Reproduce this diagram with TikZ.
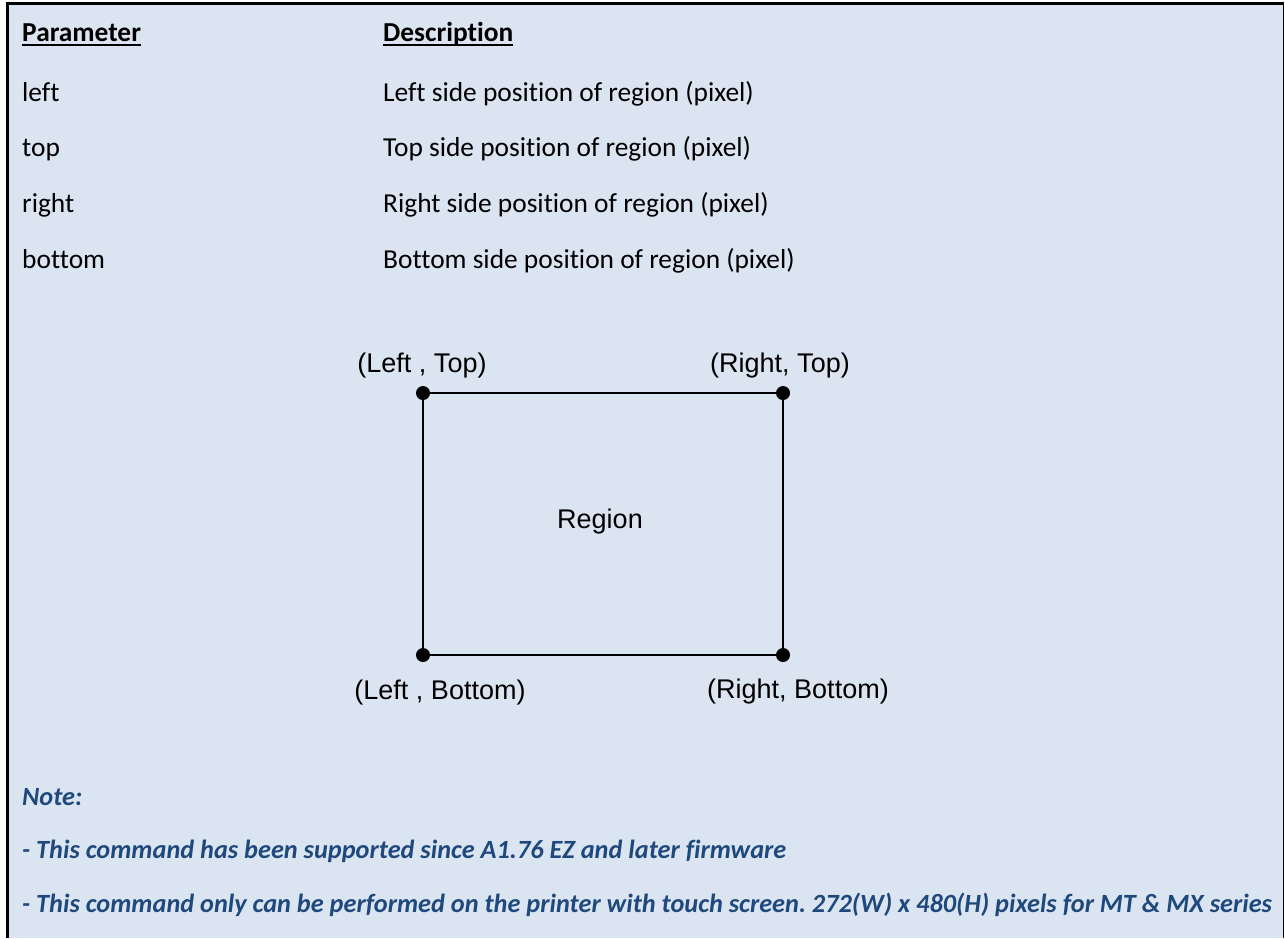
\documentclass[tikz,border=0pt]{standalone}
\usepackage{fontspec}
\setmainfont[Ligatures=NoCommon]{Carlito}
\newfontfamily\arialf{Liberation Sans}
\usetikzlibrary{positioning}
\definecolor{hatter}{HTML}{DBE5F1}
\definecolor{megjszin}{HTML}{1F497D}
\newcommand{\alah}[1]{\setbox0\hbox{#1}\rlap{\rule[-4.5pt]{\wd0}{1.8pt}}\box0}
\frenchspacing
\tikzset{
  sarok/.style={circle,fill,inner sep=0pt,minimum size=14pt},
  cella/.style={anchor=base west,inner sep=0pt,font=\fontsize{27.4}{32}\selectfont},
  fej/.style={cella,font=\fontsize{27.4}{32}\selectfont\bfseries},
  felirat/.style={inner sep=0pt,font=\arialf\fontsize{27}{32}\selectfont},
  megj/.style={cella,text=megjszin,font=\fontsize{26.3}{31}\selectfont\bfseries\itshape},
  keret/.style={line width=2pt},
}

\begin{document}
\begin{tikzpicture}[x=1pt,y=-1pt]
  \useasboundingbox (0,0) rectangle (1285,938);
  \fill[white] (0,0) rectangle (1285,938);
  \fill[hatter] (8,4) rectangle (1283,938);
  \draw[line width=3.5pt] (7.5,938) -- (7.5,3.5) -- (1284,3.5);
  \draw[line width=1.5pt] (1283.5,3.5) -- (1283.5,938);
  % table
  \node[fej] (par) at (22,41) {\alah{Parameter}};
  \node[fej] (desc) at (383,41) {\alah{Description}};
  \foreach \nev/\leir [count=\i] in {left/Left,top/Top,right/Right,bottom/Bottom}{
    \node[cella] (p\i) at (22,{101+55.7*(\i-1)}) {\nev};
    \node[cella] (d\i) at (383,{101+55.7*(\i-1)}) {\leir\ side position of region (pixel)};
  }
  % region
  \node[sarok] (lt) at (423,393) {};
  \node[sarok] (rt) at (783,393) {};
  \node[sarok] (lb) at (423,655) {};
  \node[sarok] (rb) at (783,655) {};
  \draw[keret] (lt.center) -- (rt.center) -- (rb.center) -- (lb.center) -- cycle;
  \node[felirat] (ltf) at (422,366) {(Left , Top)};
  \node[felirat] (rtf) at (780,366) {(Right, Top)};
  \node[felirat] (lbf) at (440,692) {(Left , Bottom)};
  \node[felirat] (rbf) at (798,692) {(Right, Bottom)};
  \node[felirat] (reg) at (600,522) {Region};
  % notes
  \node[megj] (n0) at (22,805) {Note:};
  \node[megj] (n1) at (22,858) {- This command has been supported since A1.76 EZ and later firmware};
  \node[megj] (n2) at (22,912) {- This command only can be performed on the printer with touch screen. 272(W) x 480(H) pixels for MT \& MX series};
\end{tikzpicture}
\end{document}
